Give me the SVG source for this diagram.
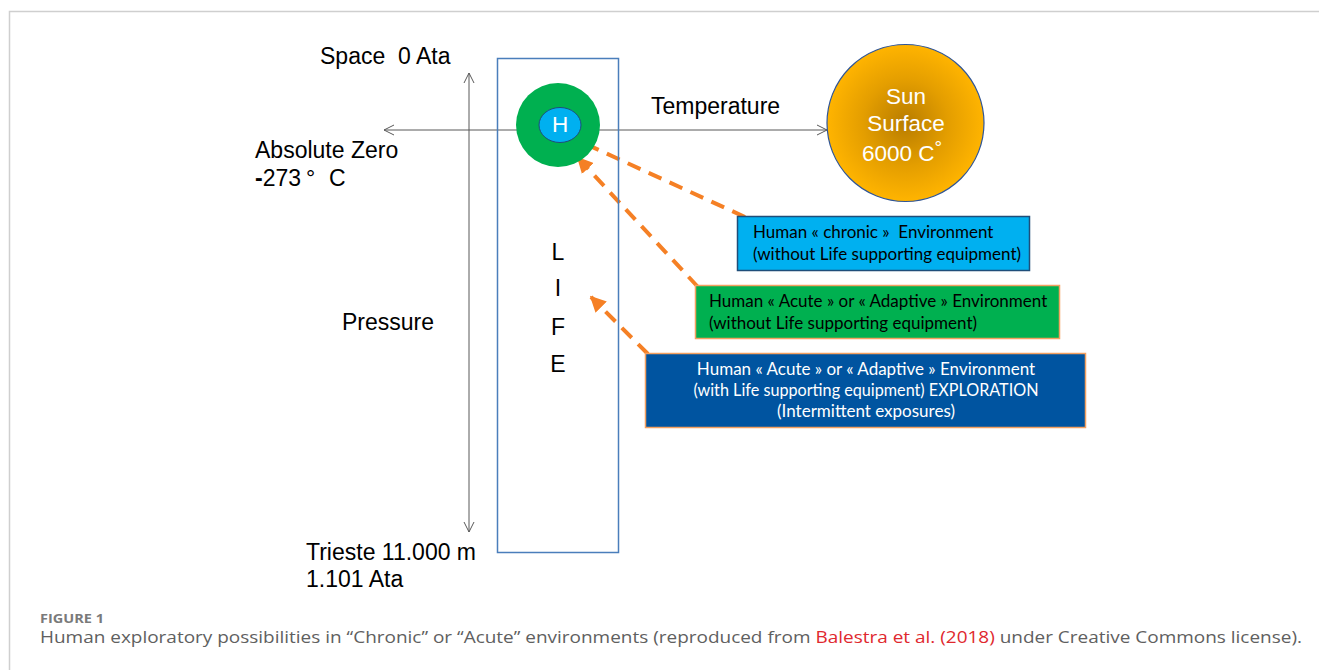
<svg xmlns="http://www.w3.org/2000/svg" width="1319" height="670" viewBox="0 0 1319 670">
  <style>
    .lbl { font-family: "Liberation Sans", Arial, sans-serif; font-size: 23px; fill: #000; white-space: pre; }
    .sun { font-family: "Liberation Sans", Arial, sans-serif; font-size: 22.5px; fill: #fff; }
    .box { font-family: "Lato", "Open Sans", sans-serif; font-size: 17px; white-space: pre; }
    .axis { stroke: #595959; stroke-width: 1; fill: none; }
    .orange { stroke: #f58025; stroke-width: 4; stroke-dasharray: 14 9; fill: none; }
    .cap { font-family: "Open Sans", "Lato", sans-serif; }
  </style>
  <defs>
    <marker id="open" viewBox="0 0 12 12" refX="11" refY="6" markerWidth="12" markerHeight="12" markerUnits="userSpaceOnUse" orient="auto-start-reverse">
      <path d="M1,1 L11,6 L1,11" fill="none" stroke="#595959" stroke-width="1"/>
    </marker>
    <marker id="head" viewBox="0 0 10 10" refX="9" refY="5" markerWidth="4" markerHeight="4" orient="auto">
      <path d="M0,0 L10,5 L0,10 Z" fill="#f58025"/>
    </marker>
    <radialGradient id="sunfill" cx="0.5" cy="0.5" r="0.5">
      <stop offset="0" stop-color="#b87c00"/>
      <stop offset="0.55" stop-color="#e49e00"/>
      <stop offset="1" stop-color="#ffb400"/>
    </radialGradient>
  </defs>

  <rect width="1319" height="670" fill="#fff"/>
  <!-- frame -->
  <path d="M9.5,670 V11.5 H1319" fill="none" stroke="#cfcfcf" stroke-width="1.5"/>

  <!-- connectors -->
  <g id="connectors">
    <line class="axis" x1="469" y1="73" x2="469" y2="532" marker-start="url(#open)" marker-end="url(#open)"/>
    <line class="axis" x1="384" y1="130" x2="827" y2="130" marker-start="url(#open)" marker-end="url(#open)"/>
    <line class="orange" x1="745" y1="217" x2="577" y2="140" marker-end="url(#head)"/>
    <line class="orange" x1="698" y1="287" x2="578" y2="158" marker-end="url(#head)"/>
    <line class="orange" x1="648" y1="354" x2="591" y2="297" marker-end="url(#head)"/>
  </g>

  <!-- LIFE column -->
  <g id="life">
    <rect x="497.5" y="58.5" width="121" height="494" fill="none" stroke="#4a7ebb" stroke-width="1.5"/>
    <text class="lbl" x="558" y="260" text-anchor="middle">L</text>
    <text class="lbl" x="558" y="296" text-anchor="middle">I</text>
    <text class="lbl" x="558" y="335" text-anchor="middle">F</text>
    <text class="lbl" x="558" y="372" text-anchor="middle">E</text>
  </g>

  <!-- human -->
  <g id="human">
    <circle cx="558" cy="125" r="42" fill="#00b050"/>
    <ellipse cx="560" cy="125" rx="21" ry="17.5" fill="#00b0f0" stroke="#1f4e79" stroke-width="1"/>
    <text class="sun" x="560" y="132" text-anchor="middle" font-size="19">H</text>
  </g>

  <!-- sun -->
  <g id="sun">
    <circle cx="905.5" cy="123" r="78.5" fill="url(#sunfill)" stroke="#2f5597" stroke-width="1.2"/>
    <text class="sun" x="906" y="104" text-anchor="middle">Sun</text>
    <text class="sun" x="906" y="131" text-anchor="middle">Surface</text>
    <text class="sun" x="862" y="161">6000 C<tspan font-size="19" dy="-7">°</tspan></text>
  </g>

  <!-- axis labels -->
  <g id="labels">
    <text class="lbl" x="320" y="64">Space  0 Ata</text>
    <text class="lbl" x="255" y="158">Absolute Zero</text>
    <text class="lbl" x="255" y="186"><tspan font-weight="bold">-</tspan>273<tspan x="306">°</tspan><tspan x="329">C</tspan></text>
    <text class="lbl" x="651" y="114">Temperature</text>
    <text class="lbl" x="342" y="330">Pressure</text>
    <text class="lbl" x="306" y="560">Trieste 11.000 m</text>
    <text class="lbl" x="306" y="587">1.101 Ata</text>
  </g>

  <!-- environment boxes -->
  <g id="chronic">
    <rect x="737.5" y="216.5" width="292" height="54" fill="#00b0f0" stroke="#1f4e79" stroke-width="1.5"/>
    <text class="box" x="753" y="238" fill="#000">Human « chronic »  Environment</text>
    <text class="box" x="753" y="260" fill="#000">(without Life supporting equipment)</text>
  </g>
  <g id="acute">
    <rect x="695.5" y="285.5" width="364" height="53" fill="#00b050" stroke="#f4a060" stroke-width="1.5"/>
    <text class="box" x="709" y="307" fill="#000">Human « Acute » or « Adaptive » Environment</text>
    <text class="box" x="709" y="329" fill="#000">(without Life supporting equipment)</text>
  </g>
  <g id="exploration">
    <rect x="645.5" y="353.5" width="440" height="74" fill="#0054a0" stroke="#f4a060" stroke-width="1.5"/>
    <text class="box" x="866" y="375" fill="#fff" text-anchor="middle">Human « Acute » or « Adaptive » Environment</text>
    <text class="box" x="866" y="396" fill="#fff" text-anchor="middle" textLength="345" lengthAdjust="spacingAndGlyphs">(with Life supporting equipment) EXPLORATION</text>
    <text class="box" x="866" y="417" fill="#fff" text-anchor="middle">(Intermittent exposures)</text>
  </g>

  <!-- caption -->
  <g id="caption">
    <text class="cap" x="40" y="623" font-size="12" font-weight="bold" fill="#7a7a7a" textLength="64" lengthAdjust="spacingAndGlyphs">FIGURE 1</text>
    <text class="cap" x="40" y="643" font-size="16.5" fill="#606060" textLength="1262" lengthAdjust="spacingAndGlyphs">Human exploratory possibilities in “Chronic” or “Acute” environments (reproduced from <tspan fill="#e0282e">Balestra et al. (2018)</tspan> under Creative Commons license).</text>
  </g>
</svg>
